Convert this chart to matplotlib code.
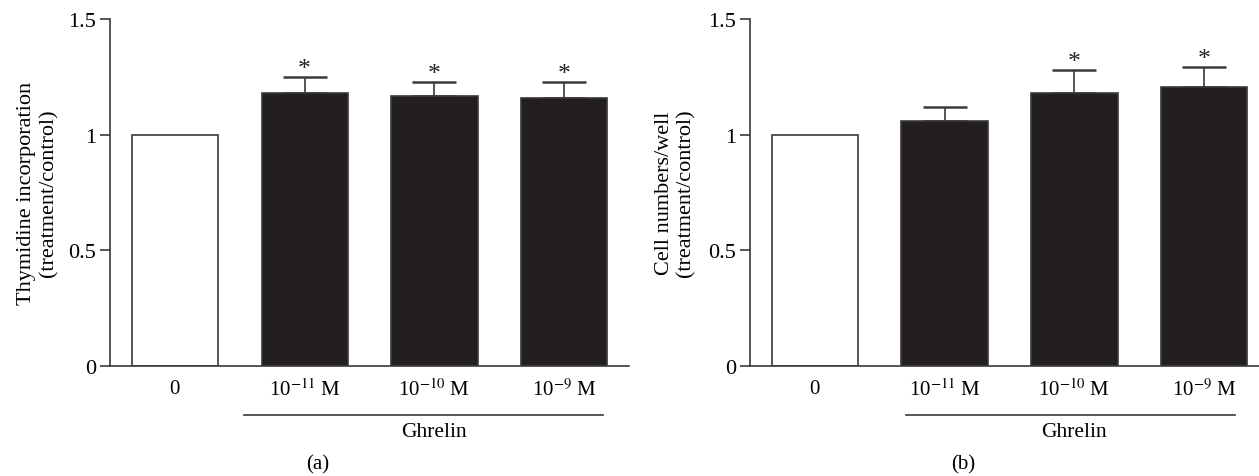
import matplotlib
matplotlib.use("Agg")
import matplotlib.pyplot as plt

plt.rcParams['font.family'] = ['Liberation Serif', 'DejaVu Serif']
plt.rcParams['mathtext.fontset'] = 'stix'

labels = ["0", r"10$^{-11}$ M", r"10$^{-10}$ M", r"10$^{-9}$ M"]
thym = [1.0, 1.178, 1.169, 1.159]
thym_err = [0.0, 0.072, 0.060, 0.070]
thym_sig = [False, True, True, True]
cells = [1.0, 1.061, 1.181, 1.204]
cells_err = [0.0, 0.059, 0.100, 0.087]
cells_sig = [False, False, True, True]
ylabels = ["Thymidine incorporation\n(treatment/control)",
           "Cell numbers/well\n(treatment/control)"]
panel_tags = ["(a)", "(b)"]

edge = "#3a3a3a"
fill = ["white", "#231f20", "#231f20", "#231f20"]

fig = plt.figure(figsize=(12.59, 4.77), dpi=100)
ax_a = fig.add_axes([0.0874, 0.2306, 0.4122, 0.7275])
ax_b = fig.add_axes([0.5957, 0.2306, 0.4123, 0.7275])

def panel(ax, vals, errs, sig, ylab, line_x, lpad):
    x = list(range(len(vals)))
    ax.errorbar(x[1:], vals[1:], yerr=[[0] * 3, errs[1:]], fmt='none',
                ecolor=edge, elinewidth=1.2, capsize=15.5, capthick=1.8, zorder=1)
    ax.bar(x, vals, width=0.665, color=fill, edgecolor=edge, linewidth=1.2, zorder=2)
    for i in x:
        if sig[i]:
            ax.text(i, vals[i] + errs[i] + 0.008, "*", ha='center', va='baseline',
                    fontsize=18.5, color="#222222")
    ax.set_xlim(-0.5, 3.5)
    ax.set_ylim(0, 1.5)
    ax.set_yticks([0, 0.5, 1, 1.5])
    ax.set_yticklabels(["0", "0.5", "1", "1.5"])
    ax.set_xticks(x)
    ax.set_xticklabels(labels)
    ax.tick_params(axis='x', length=0, pad=9, labelsize=15)
    ax.tick_params(axis='y', length=7, width=1.2, color=edge, pad=3, labelsize=16)
    for s in ["top", "right"]:
        ax.spines[s].set_visible(False)
    for s in ["left", "bottom"]:
        ax.spines[s].set_color(edge)
        ax.spines[s].set_linewidth(1.2)
    ax.set_ylabel(ylab, fontsize=16, linespacing=1.2, labelpad=lpad)
    ax.plot(line_x, [-0.21, -0.21], color=edge, linewidth=1.2, clip_on=False)
    ax.text(2, -0.285, "Ghrelin", ha='center', va='center', fontsize=15.5)

panel(ax_a, thym, thym_err, thym_sig, ylabels[0], [0.53, 3.30], 7)
panel(ax_b, cells, cells_err, cells_sig, ylabels[1], [0.70, 3.24], 9)

fig.text(318 / 1259, 1 - 465 / 477, panel_tags[0], ha='center', va='center', fontsize=15)
fig.text(963 / 1259, 1 - 465 / 477, panel_tags[1], ha='center', va='center', fontsize=15)

fig.savefig("out.png", dpi=100)
